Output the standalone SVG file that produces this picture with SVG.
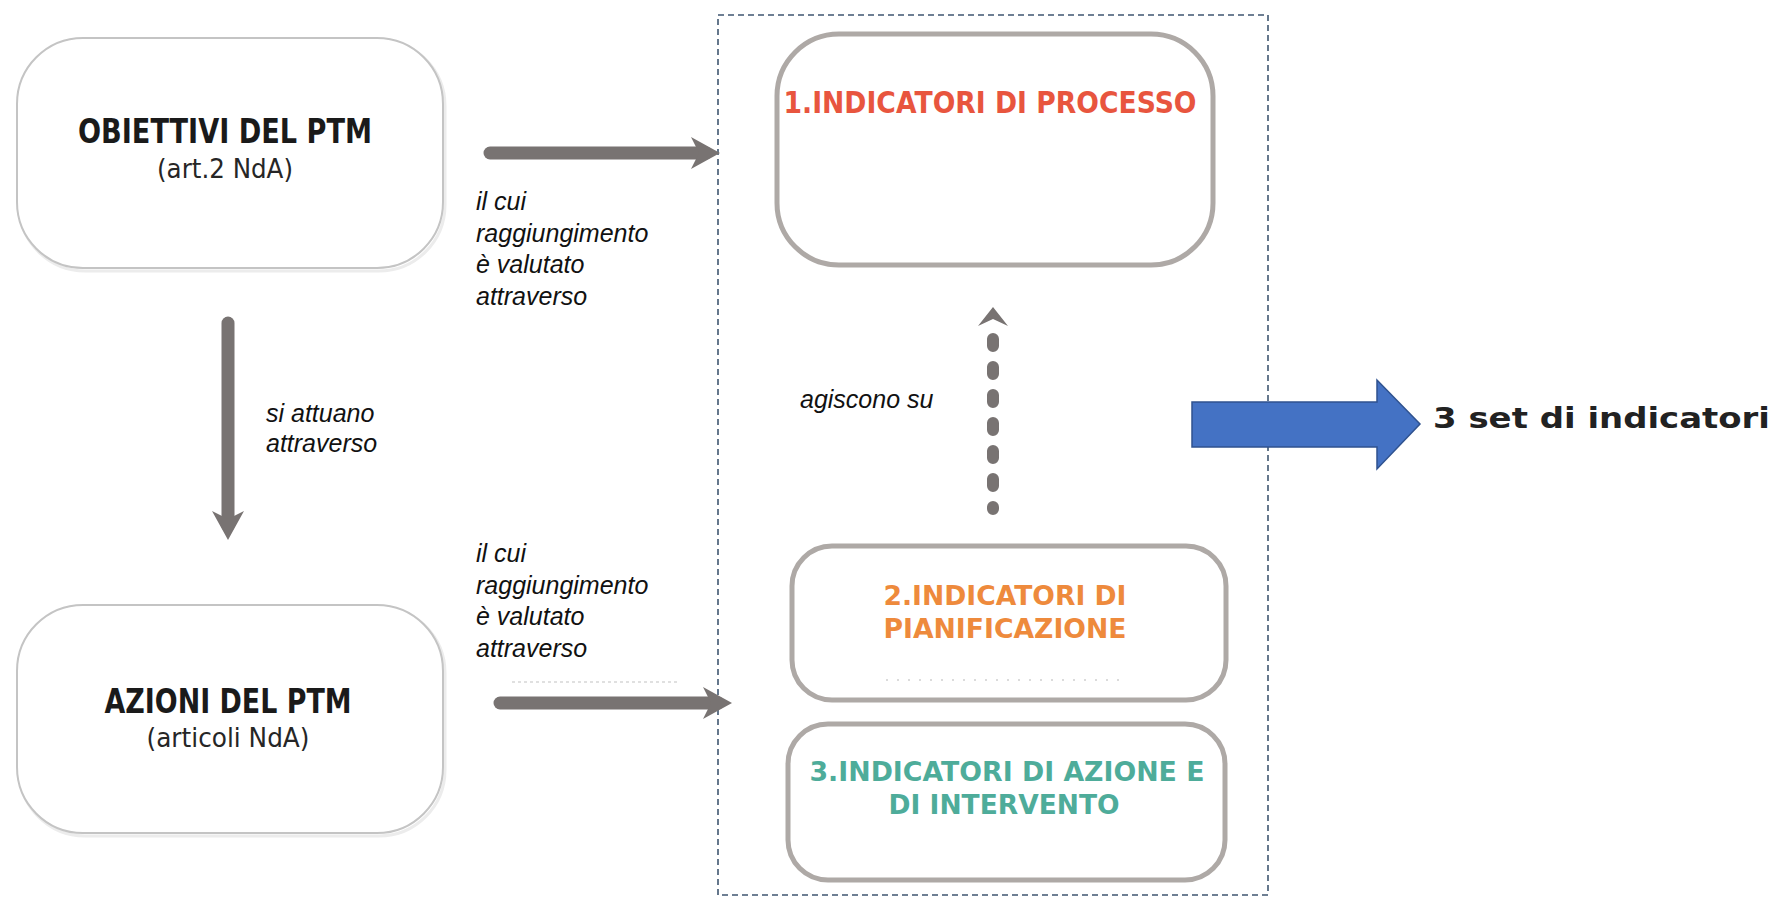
<svg xmlns="http://www.w3.org/2000/svg" width="1785" height="902" viewBox="0 0 1785 902">
<style>
.lbox{fill:#ffffff;stroke:#c4c4c4;stroke-width:2}
.lshadow{fill:none;stroke:#ececec;stroke-width:3}
.rbox{fill:#ffffff;stroke:#aea9a6;stroke-width:5}
.title{font-family:"DejaVu Sans",sans-serif;font-weight:bold;text-anchor:middle}
.sub{font-family:"DejaVu Sans",sans-serif;text-anchor:middle;fill:#262626}
.lbl{font-family:"Liberation Sans",Arial,sans-serif;font-style:italic;font-size:25px;fill:#111111}
.garrow{fill:none;stroke:#787372;stroke-width:13;stroke-linecap:round}
</style>
<defs>
<marker id="ghead" markerUnits="userSpaceOnUse" viewBox="0 -17 30 34" markerWidth="30" markerHeight="34" refX="16" refY="0" orient="auto">
<path d="M1,-16 L30,0 L1,16 L9,0 Z" fill="#787372"/>
</marker>
</defs>

<rect x="718" y="15" width="550" height="880" fill="none" stroke="#3f5670" stroke-width="1.6" stroke-dasharray="6 4"/>

<g id="obiettivi">
<rect class="lshadow" x="19" y="40" width="426" height="231" rx="66"/>
<rect class="lbox" x="17" y="38" width="426" height="230" rx="66"/>
<text class="title" x="225" y="143" font-size="34" fill="#1a1a1a" textLength="294" lengthAdjust="spacingAndGlyphs">OBIETTIVI DEL PTM</text>
<text class="sub" x="225" y="178" font-size="26" textLength="136" lengthAdjust="spacingAndGlyphs">(art.2 NdA)</text>
</g>

<g id="azioni">
<rect class="lshadow" x="19" y="607" width="426" height="229" rx="66"/>
<rect class="lbox" x="17" y="605" width="426" height="228" rx="66"/>
<text class="title" x="228" y="713" font-size="34" fill="#1a1a1a" textLength="247" lengthAdjust="spacingAndGlyphs">AZIONI DEL PTM</text>
<text class="sub" x="228" y="747" font-size="26" textLength="163" lengthAdjust="spacingAndGlyphs">(articoli NdA)</text>
</g>

<g id="ind-processo">
<rect class="rbox" x="777" y="34" width="436" height="231" rx="62"/>
<text class="title" x="990" y="113" font-size="30" fill="#e8553e" textLength="413" lengthAdjust="spacingAndGlyphs">1.INDICATORI DI PROCESSO</text>
</g>

<g id="ind-pianificazione">
<rect class="rbox" x="792" y="546" width="434" height="154" rx="40"/>
<text class="title" x="1005" y="605" font-size="27" fill="#ee8a3c" textLength="243" lengthAdjust="spacingAndGlyphs">2.INDICATORI DI</text>
<text class="title" x="1005" y="638" font-size="27" fill="#ee8a3c" textLength="243" lengthAdjust="spacingAndGlyphs">PIANIFICAZIONE</text>
<line x1="886" y1="680" x2="1126" y2="680" stroke="#cfcfcf" stroke-width="1.5" stroke-dasharray="2 9"/>
</g>

<g id="ind-azione">
<rect class="rbox" x="788" y="724" width="437" height="156" rx="40"/>
<text class="title" x="1007" y="781" font-size="27" fill="#4eac9a" textLength="395" lengthAdjust="spacingAndGlyphs">3.INDICATORI DI AZIONE E</text>
<text class="title" x="1004" y="814" font-size="27" fill="#4eac9a" textLength="231" lengthAdjust="spacingAndGlyphs">DI INTERVENTO</text>
</g>

<g id="set-indicatori">
<path d="M1192,402 L1377,402 L1377,380 L1420,424 L1377,469 L1377,447 L1192,447 Z" fill="#4472c4" stroke="#2f528f" stroke-width="1.5"/>
<text x="1433" y="428" font-family="DejaVu Sans,sans-serif" font-weight="bold" font-size="29" fill="#222222" textLength="337" lengthAdjust="spacingAndGlyphs">3 set di indicatori</text>
</g>

<g id="connectors">
<path class="garrow" d="M490,153 L706,153" marker-end="url(#ghead)"/>
<path class="garrow" d="M500,703 L718,703" marker-end="url(#ghead)"/>
<line x1="512" y1="682" x2="680" y2="682" stroke="#d6d6d6" stroke-width="1.5" stroke-dasharray="3 3"/>
<path class="garrow" d="M228,323 L228,526" marker-end="url(#ghead)"/>
<path d="M993,339 L993,509" fill="none" stroke="#787372" stroke-width="12" stroke-linecap="round" stroke-dasharray="7 21"/>
<path d="M978,326 L993,307 L1008,326 L993,319 Z" fill="#787372"/>
</g>

<g id="labels">
<text class="lbl" x="476" y="210">il cui</text>
<text class="lbl" x="476" y="242">raggiungimento</text>
<text class="lbl" x="476" y="273">è valutato</text>
<text class="lbl" x="476" y="305">attraverso</text>
<text class="lbl" x="266" y="422">si attuano</text>
<text class="lbl" x="266" y="452">attraverso</text>
<text class="lbl" x="800" y="408">agiscono su</text>
<text class="lbl" x="476" y="562">il cui</text>
<text class="lbl" x="476" y="594">raggiungimento</text>
<text class="lbl" x="476" y="625">è valutato</text>
<text class="lbl" x="476" y="657">attraverso</text>
</g>
</svg>
